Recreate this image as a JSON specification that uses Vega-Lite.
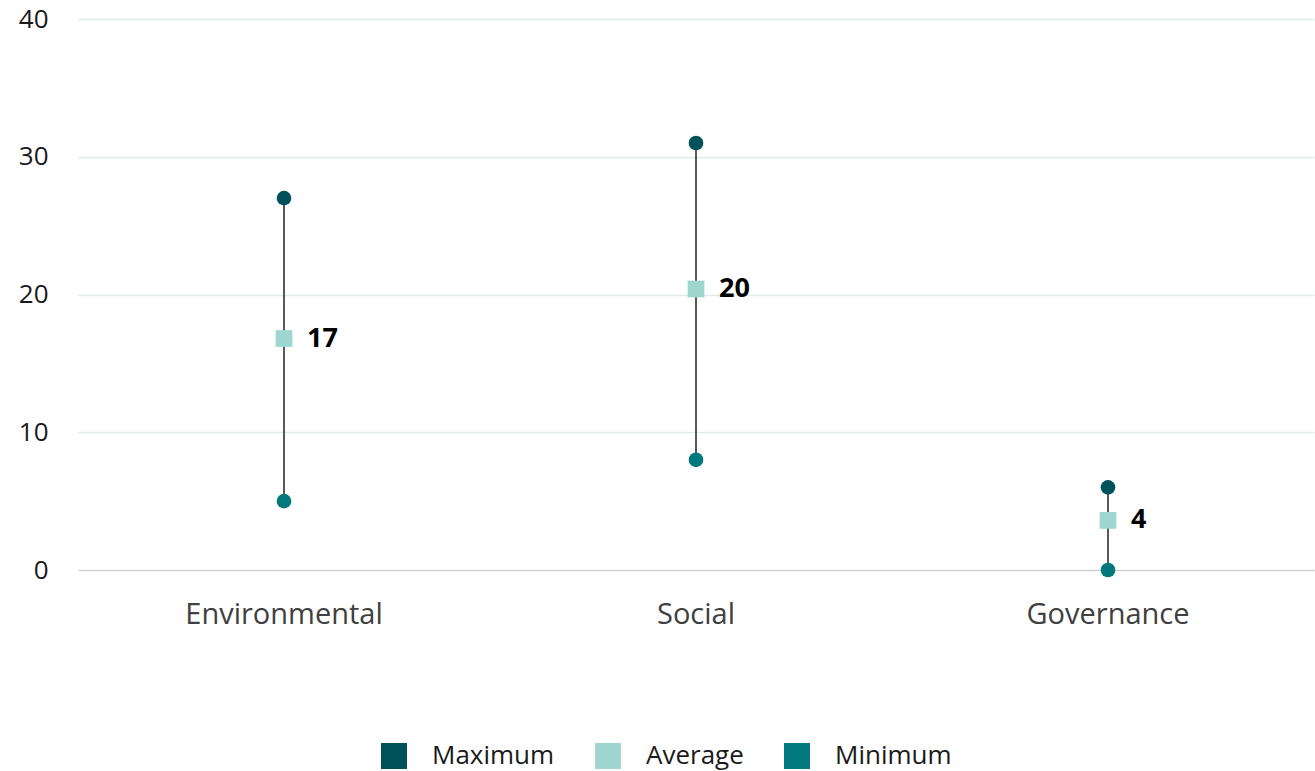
{
  "$schema": "https://vega.github.io/schema/vega-lite/v6.json",
  "width": 1236,
  "height": 551,
  "autosize": {"type": "none"},
  "padding": {"left": 78, "top": 19, "right": 1, "bottom": 201},
  "background": "white",
  "config": {
    "view": {"stroke": null},
    "font": "Open Sans"
  },
  "data": {
    "values": [
      {"category": "Environmental", "Maximum": 27, "Average": 16.8, "Minimum": 5, "label": "17"},
      {"category": "Social", "Maximum": 31, "Average": 20.4, "Minimum": 8, "label": "20"},
      {"category": "Governance", "Maximum": 6, "Average": 3.6, "Minimum": 0, "label": "4"}
    ]
  },
  "encoding": {
    "x": {
      "field": "category",
      "type": "nominal",
      "sort": ["Environmental", "Social", "Governance"],
      "scale": {"paddingInner": 0, "paddingOuter": 0},
      "axis": {
        "title": null,
        "labelAngle": 0,
        "labelFontSize": 29,
        "labelLimit": 0,
        "labelColor": "#404040",
        "labelPadding": 30,
        "ticks": false,
        "domain": false,
        "grid": false
      }
    }
  },
  "layer": [
    {
      "mark": {"type": "rule", "color": "#595959", "strokeWidth": 2},
      "encoding": {
        "y": {
          "field": "Minimum",
          "type": "quantitative",
          "scale": {"domain": [0, 40], "nice": false},
          "axis": {
            "title": null,
            "values": [0, 10, 20, 30, 40],
            "labelFontSize": 26,
            "labelColor": "#1a1a1a",
            "labelPadding": 30,
            "ticks": false,
            "domain": false,
            "gridColor": {"condition": {"test": "datum.value === 0", "value": "#d0d0d0"}, "value": "#dcece9"},
            "gridWidth": 1.5
          }
        },
        "y2": {"field": "Maximum"}
      }
    },
    {
      "transform": [
        {"fold": ["Maximum", "Minimum"], "as": ["stat", "value"]}
      ],
      "mark": {"type": "point", "filled": true, "opacity": 1, "shape": "circle", "size": 215},
      "encoding": {
        "y": {"field": "value", "type": "quantitative"},
        "color": {
          "field": "stat",
          "type": "nominal",
          "scale": {"domain": ["Maximum", "Average", "Minimum"], "range": ["#00525a", "#9fd6d0", "#00787e"]},
          "legend": {
            "title": null,
            "orient": "none",
            "direction": "horizontal",
            "legendX": 303,
            "legendY": 724,
            "padding": 0,
            "symbolType": "square",
            "symbolSize": 676,
            "symbolStrokeWidth": 0,
            "symbolOpacity": 1,
            "labelFontSize": 26,
            "labelColor": "#1a1a1a",
            "labelOffset": 25,
            "columnPadding": 40
          }
        }
      }
    },
    {
      "transform": [
        {"fold": ["Average"], "as": ["stat", "value"]}
      ],
      "mark": {"type": "point", "filled": true, "opacity": 1, "shape": "square", "size": 280},
      "encoding": {
        "y": {"field": "value", "type": "quantitative"},
        "color": {"field": "stat", "type": "nominal"}
      }
    },
    {
      "mark": {"type": "text", "align": "left", "baseline": "middle", "dx": 23, "fontSize": 27, "fontWeight": "bold", "color": "#000000"},
      "encoding": {
        "y": {"field": "Average", "type": "quantitative"},
        "text": {"field": "label", "type": "nominal"}
      }
    }
  ]
}
